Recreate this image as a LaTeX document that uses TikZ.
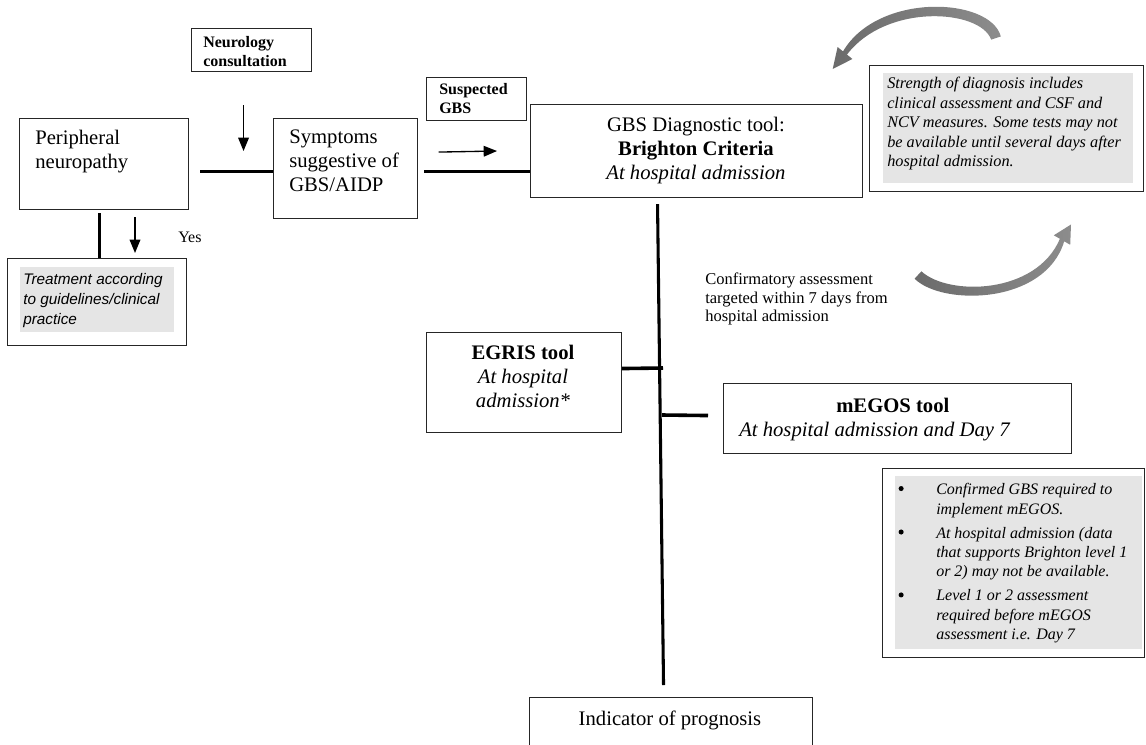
\documentclass[tikz,border=0pt]{standalone}
\usepackage{fontspec}
\setmainfont{Liberation Serif}
\newfontfamily\arialf{Liberation Sans}
\usetikzlibrary{arrows.meta}
\newcommand\bigf{\fontsize{15.5}{18}\selectfont}
\newcommand\smallf{\fontsize{12}{14.3}\selectfont}
\newcommand\mybul{\makebox[29.25pt][l]{\hspace*{1pt}\raisebox{2.6pt}{\tikz\fill (0,0) circle (1.9pt);}}}
\begin{document}
\begin{tikzpicture}[x=0.75pt,y=-0.75pt,
  box/.style={draw=black!85, line width=0.8pt, inner sep=0pt, anchor=north west},
  txt/.style={inner sep=0pt, anchor=north west, align=left},
  ctxt/.style={inner sep=0pt, anchor=north, align=center},
  hbar/.style={line width=2.7pt},
  vbar/.style={line width=2.3pt},
  arr/.style={line width=1pt, -{Triangle[width=8pt,length=10pt]}},
  greyfill/.style={fill=black!10},
  curved/.style={left color=black!58, right color=black!45}]
\useasboundingbox (0,0) rectangle (1146,744);

% boxes
\node[box, minimum width=120*0.75pt, minimum height=43*0.75pt] (n) at (191,28) {};
\node[txt, font=\smallf\bfseries] (nt) at (203,36) {Neurology\\consultation};

\node[box, minimum width=169*0.75pt, minimum height=91*0.75pt] (p) at (19,118) {};
\node[txt, font=\bigf] (pt) at (35,130) {Peripheral\\neuropathy};

\node[box, minimum width=144*0.75pt, minimum height=100*0.75pt] (s) at (273,118) {};
\node[txt, font=\bigf] (st) at (289,130) {Symptoms\\suggestive of\\GBS/AIDP};

\node[box, minimum width=100*0.75pt, minimum height=43*0.75pt] (sg) at (426,77) {};
\node[txt, font=\smallf\bfseries] (sgt) at (439,83) {Suspected\\GBS};

\node[box, minimum width=332*0.75pt, minimum height=93*0.75pt] (g) at (530,104) {};
\node[ctxt, font=\bigf] (gt) at (696,117) {GBS Diagnostic tool:\\\textbf{Brighton Criteria}\\\textit{At hospital admission}};

\node[box, minimum width=274*0.75pt, minimum height=126*0.75pt] (sb) at (869,65) {};
\fill[greyfill] (883,73) rectangle (1133,183);
\node[txt, font=\fontsize{12.2}{14.6}\selectfont\itshape] (sbt) at (887,77) {Strength of diagnosis includes\\clinical assessment and CSF and\\NCV measures. Some tests may not\\be available until several days after\\hospital admission.};

\node[txt, font=\fontsize{12.4}{13.9}\selectfont] (ca) at (705,273) {Confirmatory assessment\\targeted within 7 days from\\hospital admission};

\node[box, minimum width=195*0.75pt, minimum height=100*0.75pt] (e) at (426,332) {};
\node[ctxt, font=\bigf] (et) at (523,345) {\textbf{EGRIS tool}\\\textit{At hospital}\\\textit{admission*}};

\node[box, minimum width=348*0.75pt, minimum height=70*0.75pt] (m) at (723,383) {};
\node[txt, font=\bigf] (mt) at (739,398) {\hspace*{72.75pt}\textbf{mEGOS tool}\\\textit{At hospital admission and Day 7}};

\node[box, minimum width=262*0.75pt, minimum height=189*0.75pt] (nb) at (882,468) {};
\fill[greyfill] (895,476) rectangle (1142,649);
\node[txt, font=\fontsize{12}{14.6}\selectfont\itshape] (nbt) at (897,483) {%
\mybul Confirmed GBS required to\\
\hspace*{29.25pt}implement mEGOS.\\[3.4pt]
\mybul At hospital admission (data\\
\hspace*{29.25pt}that supports Brighton level 1\\
\hspace*{29.25pt}or 2) may not be available.\\[3.4pt]
\mybul Level 1 or 2 assessment\\
\hspace*{29.25pt}required before mEGOS\\
\hspace*{29.25pt}assessment i.e. Day 7};

\node[box, minimum width=283*0.75pt, minimum height=70*0.75pt] (i) at (529,697) {};
\node[ctxt, font=\bigf] (it) at (670,711) {Indicator of prognosis};

\node[box, minimum width=179*0.75pt, minimum height=87*0.75pt] (t) at (7,258) {};
\fill[greyfill] (20,267) rectangle (174,332);
\node[txt, font=\arialf\itshape\fontsize{11.5}{15}\selectfont] (tt) at (23,273) {Treatment according\\to guidelines/clinical\\practice};

\node[txt, font=\fontsize{12}{14}\selectfont] (yes) at (178,232) {Yes};

% connectors
\draw[hbar] ([shift={(11,7.5)}]p.east) -- ([shift={(0,3)}]s.west);
\draw[hbar] ([shift={(6,3)}]s.east) -- ([shift={(0,20.5)}]g.west);
\draw[vbar] ([shift={(-4.5,3)}]p.south) -- ([shift={(2.5,0)}]t.north);
\coordinate (ya) at (135,217);
\coordinate (yb) at (135,253);
\draw[arr] (ya) -- (yb);
\draw[arr] ([shift={(-8,33)}]n.south) -- ([shift={(-102,33)}]s.north);
\draw[arr] ([shift={(-38,31)}]sg.south) -- ([shift={(-33,47)}]g.north west);

\draw[vbar] ([shift={(-39,6)}]g.south) -- ([shift={(-7.5,-12)}]i.north);
\coordinate (v1) at (663,368);
\draw[hbar] ([shift={(0,-14)}]e.east) -- (v1);
\coordinate (v2) at (662,415);
\draw[hbar] (v2) -- ([shift={(-15,-3)}]m.west);

% curved arrows
\shade[curved] (1000.8,36.4) .. controls (990,-3) and (878,-8) .. (843,51.4)
  -- (837.6,47.0) -- (832.7,69.0) -- (852.4,59.0) -- (847,54.6)
  .. controls (886,3) and (980,9) .. (991.2,39.6) -- cycle;
\shade[curved] (914.6,278.7) .. controls (942,306) and (1045,305) .. (1064.2,241.3)
  -- (1070.2,244.8) -- (1071,224.5) -- (1053.8,235.3) -- (1059.9,238.8)
  .. controls (1036,295) and (948,296) .. (921.4,271.3) -- cycle;
\end{tikzpicture}
\end{document}
